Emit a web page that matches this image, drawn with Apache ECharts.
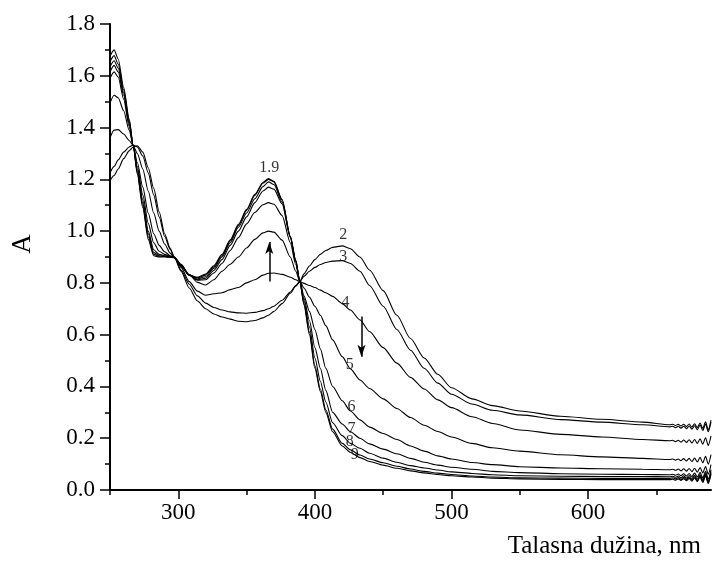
<!DOCTYPE html>
<html>
<head>
<meta charset="utf-8">
<script src="https://cdn.jsdelivr.net/npm/echarts@6/dist/echarts.min.js"></script>
<style>
html,body{margin:0;padding:0;background:#fff;}
#chart{width:714px;height:563px;}
</style>
</head>
<body>
<div id="chart"></div>
<script>
// wavelength grid (nm)
const wavelength = [250,253,256,260,264,267,270,274,278,282,286,290,294,297,302,308,314,320,326,332,338,344,350,356,362,366,370,376,382,386,389,392,396,400,404,408,413,420,426,433,440,450,460,470,480,490,500,515,530,550,580,610,640,660,662,664,666,668,670,672,674,676,678,680,682,684,686,688,690];

const curve1 = [1.675,1.70,1.665,1.555,1.435,1.33,1.22,1.09,0.968,0.905,0.9,0.9,0.899,0.897,0.864,0.83,0.822,0.834,0.866,0.91,0.966,1.026,1.084,1.142,1.188,1.203,1.192,1.122,0.98,0.887,0.805,0.715,0.60,0.47,0.38,0.30,0.225,0.17,0.145,0.125,0.11,0.096,0.084,0.074,0.066,0.06,0.055,0.05,0.046,0.043,0.041,0.04,0.04,0.040,0.042,0.038,0.043,0.037,0.044,0.036,0.045,0.034,0.047,0.032,0.050,0.029,0.054,0.025,0.060];
const curve2 = [1.195,1.215,1.24,1.28,1.31,1.325,1.33,1.305,1.245,1.165,1.075,0.99,0.935,0.90,0.845,0.78,0.73,0.70,0.68,0.668,0.66,0.652,0.65,0.655,0.665,0.675,0.69,0.72,0.76,0.787,0.805,0.835,0.865,0.89,0.91,0.925,0.937,0.943,0.932,0.90,0.85,0.77,0.675,0.585,0.51,0.447,0.395,0.352,0.326,0.305,0.285,0.273,0.262,0.252,0.254,0.249,0.254,0.247,0.254,0.245,0.255,0.243,0.256,0.241,0.259,0.238,0.263,0.233,0.270];
const curve3 = [1.225,1.25,1.275,1.305,1.325,1.332,1.325,1.29,1.225,1.14,1.055,0.98,0.93,0.90,0.85,0.795,0.75,0.722,0.705,0.695,0.688,0.684,0.683,0.686,0.693,0.70,0.71,0.733,0.765,0.79,0.805,0.825,0.845,0.86,0.871,0.879,0.884,0.886,0.875,0.845,0.79,0.71,0.62,0.54,0.47,0.413,0.37,0.332,0.308,0.29,0.272,0.262,0.252,0.244,0.246,0.241,0.246,0.239,0.246,0.237,0.247,0.235,0.248,0.233,0.251,0.230,0.255,0.225,0.262];
const curve4 = [1.36,1.39,1.392,1.375,1.35,1.33,1.30,1.24,1.155,1.07,1.0,0.95,0.915,0.90,0.86,0.805,0.768,0.752,0.758,0.762,0.774,0.782,0.80,0.812,0.83,0.837,0.838,0.833,0.822,0.812,0.805,0.798,0.79,0.782,0.772,0.762,0.748,0.72,0.695,0.657,0.612,0.55,0.49,0.435,0.39,0.348,0.318,0.283,0.257,0.232,0.215,0.205,0.195,0.190,0.192,0.187,0.192,0.185,0.193,0.184,0.194,0.182,0.195,0.180,0.198,0.177,0.202,0.172,0.209];
const curve5 = [1.495,1.525,1.515,1.465,1.39,1.33,1.265,1.17,1.07,0.99,0.945,0.92,0.905,0.90,0.872,0.832,0.802,0.792,0.812,0.845,0.872,0.9,0.935,0.968,0.993,1.0,0.996,0.965,0.9,0.845,0.805,0.78,0.745,0.71,0.675,0.635,0.58,0.515,0.468,0.425,0.392,0.352,0.315,0.28,0.25,0.226,0.205,0.18,0.163,0.15,0.136,0.128,0.122,0.118,0.120,0.115,0.120,0.113,0.121,0.112,0.122,0.110,0.123,0.108,0.126,0.105,0.130,0.100,0.137];
const curve6 = [1.59,1.615,1.595,1.51,1.405,1.33,1.25,1.14,1.03,0.955,0.922,0.91,0.903,0.90,0.87,0.83,0.81,0.812,0.838,0.875,0.925,0.975,1.028,1.072,1.102,1.11,1.104,1.06,0.955,0.87,0.805,0.75,0.69,0.62,0.545,0.47,0.40,0.345,0.305,0.271,0.243,0.218,0.195,0.17,0.15,0.132,0.12,0.106,0.098,0.09,0.085,0.082,0.08,0.078,0.080,0.076,0.081,0.074,0.082,0.073,0.083,0.071,0.084,0.069,0.087,0.066,0.091,0.061,0.098];
const curve7 = [1.615,1.64,1.615,1.525,1.415,1.33,1.24,1.12,1.0,0.928,0.91,0.905,0.902,0.899,0.868,0.83,0.812,0.818,0.848,0.89,0.945,1.0,1.055,1.11,1.155,1.17,1.162,1.105,0.975,0.88,0.805,0.74,0.655,0.55,0.47,0.385,0.30,0.255,0.225,0.20,0.178,0.158,0.14,0.122,0.107,0.096,0.088,0.08,0.072,0.067,0.063,0.061,0.06,0.059,0.061,0.057,0.062,0.055,0.063,0.054,0.064,0.052,0.065,0.050,0.068,0.047,0.072,0.042,0.079];
const curve8 = [1.635,1.658,1.63,1.535,1.42,1.33,1.232,1.108,0.99,0.918,0.905,0.903,0.9,0.898,0.866,0.83,0.815,0.824,0.856,0.9,0.955,1.015,1.07,1.125,1.172,1.19,1.18,1.112,0.978,0.884,0.805,0.73,0.63,0.51,0.42,0.34,0.26,0.21,0.18,0.161,0.142,0.123,0.107,0.094,0.085,0.077,0.07,0.064,0.059,0.055,0.053,0.052,0.052,0.051,0.053,0.049,0.054,0.047,0.055,0.046,0.056,0.044,0.057,0.042,0.060,0.039,0.064,0.034,0.071];
const curve9 = [1.655,1.678,1.645,1.545,1.428,1.33,1.225,1.098,0.978,0.91,0.903,0.903,0.9,0.898,0.866,0.83,0.82,0.83,0.862,0.905,0.962,1.022,1.08,1.138,1.185,1.2,1.19,1.12,0.98,0.886,0.805,0.72,0.61,0.48,0.39,0.31,0.235,0.18,0.155,0.135,0.12,0.105,0.092,0.081,0.072,0.065,0.06,0.054,0.05,0.047,0.046,0.045,0.045,0.045,0.047,0.043,0.048,0.041,0.049,0.040,0.050,0.038,0.051,0.036,0.054,0.033,0.058,0.028,0.065];

const curves = [curve1,curve2,curve3,curve4,curve5,curve6,curve7,curve8,curve9];

// axis ticks
const xMajorTicks = [300,400,500,600];
const xMinorTicks = [250,350,450,550,650];

// curve number labels: text, wavelength, absorbance
const labelTexts = ['1.9','2','3','4','5','6','7','8','9'];
const labelX = [366.5,420.7,420.7,422.5,425.6,426.8,426.8,425.6,429.2];
const labelY = [1.243,0.986,0.902,0.722,0.483,0.322,0.238,0.187,0.135];

// arrows: [x, yFrom, yTo]
const arrowUp = [366.6,0.805,0.958];
const arrowDown = [434.1,0.67,0.515];

const FONT = 'Liberation Serif';
const chart = echarts.init(document.getElementById('chart'));

const series = curves.map((c,k) => ({
  type:'line', name:'c'+(k+1),
  data: wavelength.map((x,i)=>[x,c[i]]),
  showSymbol:false, symbol:'none', smooth:0.25, smoothMonotone:'x',
  lineStyle:{color:'#000', width:1.1},
  silent:true, z:2
}));

series.push({
  type:'scatter', symbolSize:0, silent:true,
  data: labelTexts.map((t,i)=>({name:t, value:[labelX[i],labelY[i]]})),
  label:{show:true, position:'inside', formatter:p=>p.name, color:'#000', fontFamily:FONT, fontSize:16},
  z:5
});

series.push({
  type:'line', data:[], silent:true,
  markLine:{
    silent:true, symbol:['none','arrow'], symbolSize:[6,12],
    lineStyle:{color:'#000', width:1.5, type:'solid'},
    label:{show:false},
    data:[
      [{coord:[arrowUp[0],arrowUp[1]]},{coord:[arrowUp[0],arrowUp[2]]}],
      [{coord:[arrowDown[0],arrowDown[1]]},{coord:[arrowDown[0],arrowDown[2]]}]
    ]
  }
});

chart.setOption({
  animation:false,
  backgroundColor:'#fff',
  title:{text:'Talasna dužina, nm', right:8, top:529,
    textStyle:{fontFamily:FONT, fontSize:25, fontWeight:'normal', color:'#000'}},
  grid:{left:110, right:3, top:24, bottom:73, containLabel:false},
  xAxis:[{
    type:'value', min:250, max:690, position:'bottom',
    axisLine:{show:true, lineStyle:{color:'#000', width:2}},
    axisTick:{show:true, inside:false, length:9, lineStyle:{color:'#000', width:1.5}, customValues:xMajorTicks},
    axisLabel:{show:true, customValues:xMajorTicks, color:'#000', fontFamily:FONT, fontSize:23, margin:11},
    splitLine:{show:false}
  },{
    type:'value', min:250, max:690, position:'bottom', gridIndex:0,
    axisLine:{show:false},
    axisTick:{show:true, inside:false, length:5, lineStyle:{color:'#000', width:1.5}, customValues:xMinorTicks},
    axisLabel:{show:false},
    splitLine:{show:false}
  }],
  yAxis:{
    type:'value', min:0, max:1.8, interval:0.2,
    name:'A', nameLocation:'middle', nameRotate:90, nameGap:74,
    nameTextStyle:{fontFamily:FONT, fontSize:27, color:'#000', padding:[0,0,0,26]},
    axisLine:{show:true, lineStyle:{color:'#000', width:2}},
    axisTick:{show:true, inside:false, length:10, lineStyle:{color:'#000', width:1.5}},
    minorTick:{show:true, splitNumber:2, length:5, lineStyle:{color:'#000', width:1.5}},
    axisLabel:{formatter:v=>v.toFixed(1), color:'#000', fontFamily:FONT, fontSize:23, margin:15},
    splitLine:{show:false}, minorSplitLine:{show:false}
  },
  series:series
});
</script>
</body>
</html>
